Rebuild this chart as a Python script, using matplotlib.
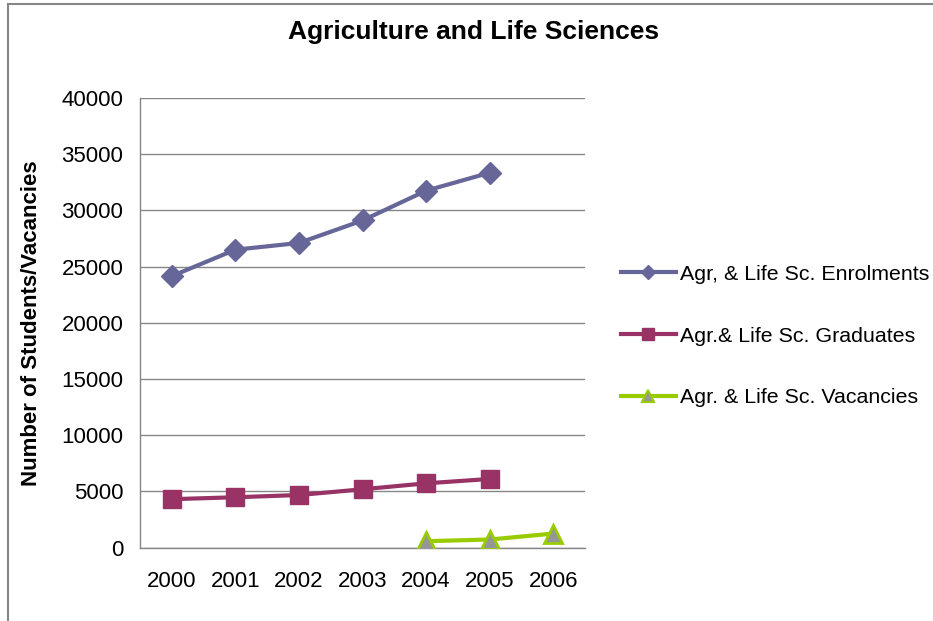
import matplotlib
matplotlib.use("Agg")
import matplotlib.pyplot as plt
from matplotlib.lines import Line2D

plt.rcParams['font.family'] = ['Liberation Sans', 'DejaVu Sans']

years = ['2000', '2001', '2002', '2003', '2004', '2005', '2006']
enrolments = [24150, 26500, 27100, 29100, 31750, 33350]
graduates = [4300, 4470, 4670, 5180, 5710, 6100]
vacancy_years = ['2004', '2005', '2006']
vacancies = [560, 710, 1240]
yticks = [0, 5000, 10000, 15000, 20000, 25000, 30000, 35000, 40000]

fig = plt.figure(figsize=(9.33, 6.21), dpi=100)
ax = fig.add_axes([140 / 933, 1 - 547.5 / 621, 445 / 933, 449.5 / 621])

x_all = list(range(len(years)))
x_enr = x_all[:len(enrolments)]
x_grad = x_all[:len(graduates)]
x_vac = [years.index(y) for y in vacancy_years]

c_enr = '#666699'
c_grad = '#993366'
c_vac = '#99CC00'

ax.plot(x_enr, enrolments, color=c_enr, lw=3, marker='D', ms=11.5,
        mfc=c_enr, mec=c_enr, mew=1, zorder=3)
ax.plot(x_grad, graduates, color=c_grad, lw=3, marker='s', ms=13,
        mfc=c_grad, mec=c_grad, mew=1, zorder=3)
ax.plot(x_vac, vacancies, color=c_vac, lw=3, marker='^', ms=13,
        mfc='#969696', mec=c_vac, mew=2, zorder=3)

ax.set_xlim(-0.5, len(years) - 0.5)
ax.set_ylim(0, 40000)
ax.set_yticks(yticks)
ax.set_yticklabels([str(v) for v in yticks])
ax.set_xticks(x_all)
ax.set_xticklabels(years)
ax.tick_params(axis='both', length=0, labelsize=16, colors='black')
ax.tick_params(axis='y', pad=12)
ax.tick_params(axis='x', pad=17)
ax.grid(axis='y', color='#868686', lw=1)
ax.set_axisbelow(True)
for s in ['top', 'right']:
    ax.spines[s].set_visible(False)
for s in ['left', 'bottom']:
    ax.spines[s].set_color('#868686')
    ax.spines[s].set_linewidth(1)

ax.set_ylabel('Number of Students/Vacancies', fontsize=16, fontweight='bold', labelpad=14)
fig.text(474 / 933, 1 - 32 / 621, 'Agriculture and Life Sciences', ha='center', va='center',
         fontsize=19, fontweight='bold')

handles = [
    Line2D([], [], color=c_enr, lw=3, marker='D', ms=7, mfc=c_enr, mec=c_enr),
    Line2D([], [], color=c_grad, lw=3, marker='s', ms=8, mfc=c_grad, mec=c_grad),
    Line2D([], [], color=c_vac, lw=3, marker='^', ms=8, mfc='#969696', mec=c_vac, mew=1.5),
]
labels = ['Agr, & Life Sc. Enrolments', 'Agr.& Life Sc. Graduates', 'Agr. & Life Sc. Vacancies']
fig.legend(handles, labels, loc='center left', bbox_to_anchor=(612 / 933, 1 - 336 / 621),
           frameon=False, fontsize=15.4, handlelength=2.6, handletextpad=0.2,
           labelspacing=2.0, borderaxespad=0)

# outer chart frame (left and top edges)
fig.add_artist(Line2D([8 / 933, 8 / 933], [0, 1 - 4 / 621], color='#868686', lw=1.5,
                      transform=fig.transFigure))
fig.add_artist(Line2D([8 / 933, 1], [1 - 4 / 621, 1 - 4 / 621], color='#868686', lw=1.5,
                      transform=fig.transFigure))

fig.savefig('out.png', dpi=100)
